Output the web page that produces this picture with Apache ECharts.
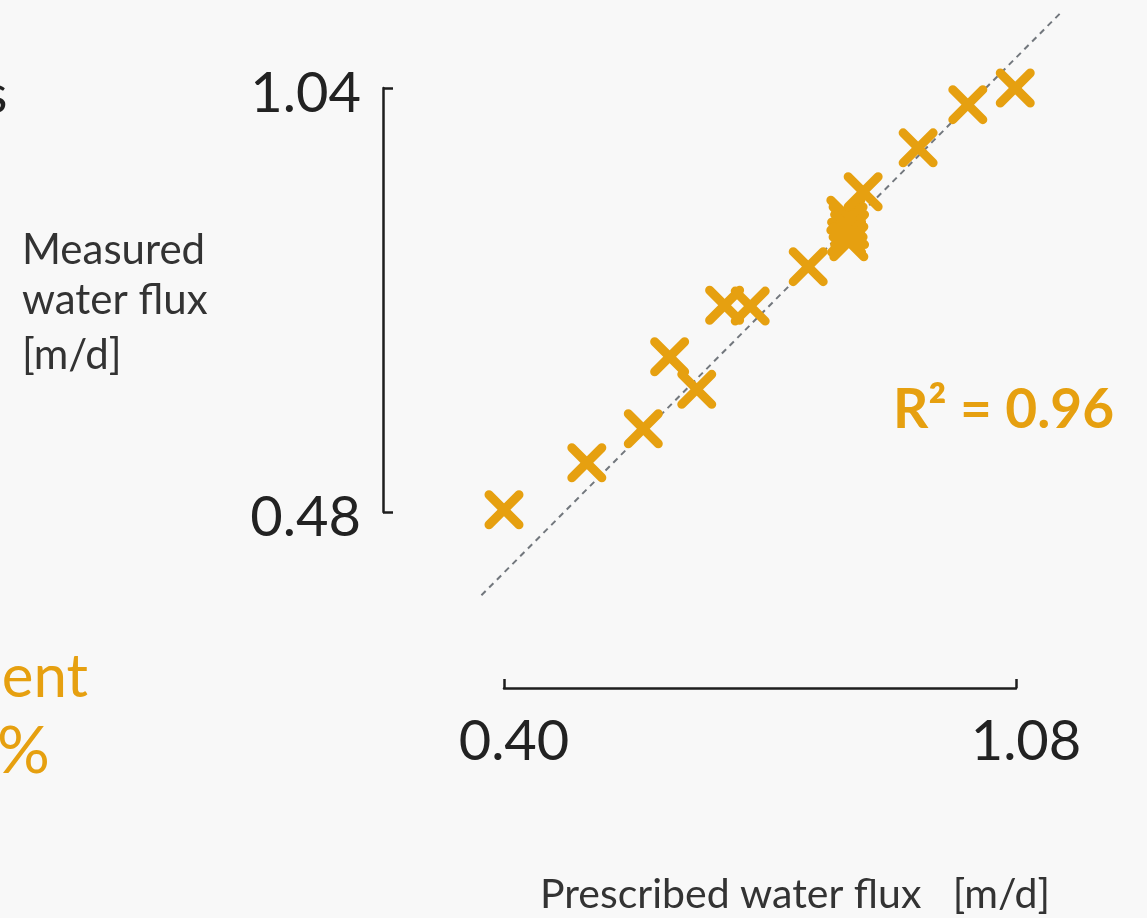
<!DOCTYPE html>
<html>
<head>
<meta charset="utf-8">
<script src="https://cdn.jsdelivr.net/npm/echarts@6/dist/echarts.min.js"></script>
<style>
  html, body { margin: 0; padding: 0; background: #f8f8f8; }
  #chart { width: 1147px; height: 918px; }
</style>
</head>
<body>
<div id="chart"></div>
<script>
// Data
const prescribed = [0.400, 0.510, 0.585, 0.620, 0.656, 0.693, 0.727, 0.804, 0.854, 0.857, 0.859, 0.855, 0.858, 0.877, 0.950, 1.016, 1.079];
const measured   = [0.483, 0.545, 0.590, 0.685, 0.642, 0.753, 0.752, 0.804, 0.872, 0.863, 0.853, 0.843, 0.837, 0.903, 0.961, 1.018, 1.040];
const identityX = [0.37, 1.14];
const identityY = [0.37, 1.14];
const xTickValues = [0.40, 1.08];
const yTickValues = [0.48, 1.04];
const xName = 'Prescribed water flux   [m/d]';
const yNameLines = ['Measured', 'water flux', '[m/d]'];
const r2Label = 'R² = 0.96';

const ORANGE = '#E6A010';
const DARK = '#1e1e1e';
const FONT = 'Lato, "Open Sans", sans-serif';

const points = prescribed.map((x, i) => [x, measured[i]]);
const identitySegment = [[identityX[0], identityY[0], identityX[1], identityY[1]]];

const chart = echarts.init(document.getElementById('chart'), null, { renderer: 'canvas' });

chart.setOption({
  backgroundColor: '#f8f8f8',
  animation: false,
  grid: { left: 504, right: 131, top: 88, bottom: 406, containLabel: false },
  xAxis: {
    type: 'value', min: 0.40, max: 1.08, offset: 176,
    axisLine: { show: true, lineStyle: { color: DARK, width: 2.5 } },
    axisTick: { show: true, inside: true, length: 9, customValues: xTickValues, lineStyle: { color: DARK, width: 2.5 } },
    axisLabel: { customValues: xTickValues, formatter: v => v.toFixed(2), fontSize: 56, color: '#222', fontFamily: FONT, margin: 26, padding: [0, 0, 0, 20] },
    splitLine: { show: false }
  },
  yAxis: {
    type: 'value', min: 0.48, max: 1.04, offset: 121,
    axisLine: { show: true, lineStyle: { color: DARK, width: 2.5 } },
    axisTick: { show: true, inside: true, length: 10, customValues: yTickValues, lineStyle: { color: DARK, width: 2.5 } },
    axisLabel: {
      customValues: yTickValues, formatter: v => '{t|' + v.toFixed(2) + '}', margin: 22,
      rich: { t: { fontSize: 56, color: '#222', fontFamily: FONT, padding: [12, 0, 0, 0] } }
    },
    splitLine: { show: false }
  },
  series: [
    {
      type: 'custom', data: identitySegment, clip: false, z: 1,
      encode: { x: [0, 2], y: [1, 3] },
      renderItem: function (params, api) {
        const a = api.coord([api.value(0), api.value(1)]);
        const b = api.coord([api.value(2), api.value(3)]);
        return {
          type: 'line',
          shape: { x1: a[0], y1: a[1], x2: b[0], y2: b[1] },
          style: { stroke: '#72777d', lineWidth: 2, lineDash: [6, 5], fill: null }
        };
      }
    },
    {
      type: 'custom', data: points, clip: false, z: 2,
      encode: { x: 0, y: 1 },
      renderItem: function (params, api) {
        const c = api.coord([api.value(0), api.value(1)]);
        const h = 15;
        const st = { stroke: ORANGE, lineWidth: 9, lineCap: 'round', fill: null };
        return {
          type: 'group',
          children: [
            { type: 'line', shape: { x1: c[0] - h, y1: c[1] - h, x2: c[0] + h, y2: c[1] + h }, style: st },
            { type: 'line', shape: { x1: c[0] - h, y1: c[1] + h, x2: c[0] + h, y2: c[1] - h }, style: st }
          ]
        };
      }
    }
  ],
  graphic: [
    { type: 'text', x: -16, y: 96, style: { text: 's', fontSize: 54, fontFamily: FONT, fill: '#222', textVerticalAlign: 'middle' } },
    { type: 'text', x: 88, y: 678, style: { text: 'ent', fontSize: 60, fontFamily: FONT, fill: ORANGE, textAlign: 'right', textVerticalAlign: 'middle' } },
    { type: 'text', x: 50, y: 752, style: { text: '%', fontSize: 66, fontFamily: FONT, fill: ORANGE, textAlign: 'right', textVerticalAlign: 'middle' } },
    { type: 'text', x: 22, y: 250, style: { text: yNameLines[0], fontSize: 42, fontFamily: FONT, fill: '#333', textVerticalAlign: 'middle' } },
    { type: 'text', x: 22, y: 300, style: { text: yNameLines[1], fontSize: 42, fontFamily: FONT, fill: '#333', textVerticalAlign: 'middle' } },
    { type: 'text', x: 22, y: 355, style: { text: yNameLines[2], fontSize: 42, fontFamily: FONT, fill: '#333', textVerticalAlign: 'middle' } },
    { type: 'text', x: 893, y: 410, style: { text: r2Label, fontSize: 55, fontWeight: 'bold', fontFamily: FONT, fill: ORANGE, textVerticalAlign: 'middle' } },
    { type: 'text', x: 540, y: 895, style: { text: xName, fontSize: 41, fontFamily: FONT, fill: '#333', textVerticalAlign: 'middle' } }
  ]
});
</script>
</body>
</html>
